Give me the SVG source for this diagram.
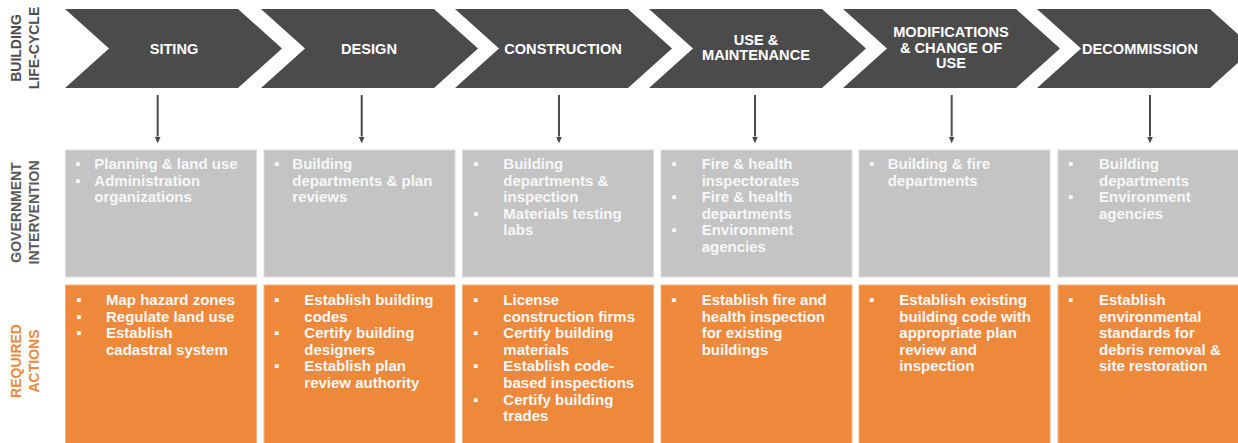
<svg xmlns="http://www.w3.org/2000/svg" width="1238" height="443" viewBox="0 0 1238 443">
<style>
.chev{fill:#4b4b4b}
.ct{fill:#ffffff;font-family:"Liberation Sans",Arial,sans-serif;font-weight:bold;font-size:14.6px;text-anchor:middle}
.side{font-family:"Liberation Sans",Arial,sans-serif;font-weight:bold;font-size:14px;text-anchor:middle}
.gbox{fill:#c4c4c4;stroke:#dcdcdc;stroke-width:1}
.obox{fill:#ee893c;stroke:#f3b27e;stroke-width:1}
.bt{fill:#f7f7f7;font-family:"Liberation Sans",Arial,sans-serif;font-weight:bold;font-size:15px}
.bl{fill:#f7f7f7;font-family:"Liberation Sans",Arial,sans-serif;font-size:15px;text-anchor:middle}
.arr{stroke:#4b4b4b;stroke-width:2;fill:none}
</style>
<defs>
<marker id="ah" markerWidth="7" markerHeight="6" refX="0" refY="3" orient="auto" markerUnits="userSpaceOnUse" viewBox="0 0 7 6">
<path d="M0,0 L7,3 L0,6 Z" fill="#4b4b4b"/>
</marker>
</defs>
<rect width="1238" height="443" fill="#ffffff"/>

<g id="labels">
<text class="side" fill="#4d4d4d" transform="rotate(-90 20.5 48)" x="20.5" y="48">BUILDING</text>
<text class="side" fill="#4d4d4d" transform="rotate(-90 38.5 48)" x="38.5" y="48">LIFE-CYCLE</text>
<text class="side" fill="#5a5a5a" transform="rotate(-90 20.5 212.5)" x="20.5" y="212.5">GOVERNMENT</text>
<text class="side" fill="#5a5a5a" transform="rotate(-90 38.5 212.5)" x="38.5" y="212.5">INTERVENTION</text>
<text class="side" fill="#ee893c" transform="rotate(-90 20.5 361)" x="20.5" y="361">REQUIRED</text>
<text class="side" fill="#ee893c" transform="rotate(-90 38.5 361)" x="38.5" y="361">ACTIONS</text>
</g>

<g id="chev-siting">
<polygon class="chev" points="65,9 238,9 282,48.5 238,88 65,88 109,48.5"/>
<text class="ct" x="174" y="53.5">SITING</text>
</g>
<g id="chev-design">
<polygon class="chev" points="261,9 434,9 478,48.5 434,88 261,88 305,48.5"/>
<text class="ct" x="369" y="53.5">DESIGN</text>
</g>
<g id="chev-construction">
<polygon class="chev" points="455,9 628,9 672,48.5 628,88 455,88 499,48.5"/>
<text class="ct" x="563" y="53.5">CONSTRUCTION</text>
</g>
<g id="chev-use">
<polygon class="chev" points="649,9 822,9 866,48.5 822,88 649,88 693,48.5"/>
<text class="ct" x="756" y="45">USE &amp;</text>
<text class="ct" x="756" y="60">MAINTENANCE</text>
</g>
<g id="chev-modifications">
<polygon class="chev" points="843,9 1016,9 1060,48.5 1016,88 843,88 887,48.5"/>
<text class="ct" x="951" y="37">MODIFICATIONS</text>
<text class="ct" x="951" y="52.5">&amp; CHANGE OF</text>
<text class="ct" x="951" y="68">USE</text>
</g>
<g id="chev-decommission">
<polygon class="chev" points="1037,9 1210,9 1254,48.5 1210,88 1037,88 1081,48.5"/>
<text class="ct" x="1140" y="53.5">DECOMMISSION</text>
</g>

<g id="connectors">
<line class="arr" x1="157.7" y1="95" x2="157.7" y2="136.5" marker-end="url(#ah)"/>
<line class="arr" x1="361.7" y1="95" x2="361.7" y2="136.5" marker-end="url(#ah)"/>
<line class="arr" x1="559" y1="95" x2="559" y2="136.5" marker-end="url(#ah)"/>
<line class="arr" x1="755" y1="95" x2="755" y2="136.5" marker-end="url(#ah)"/>
<line class="arr" x1="951.7" y1="95" x2="951.7" y2="136.5" marker-end="url(#ah)"/>
<line class="arr" x1="1150" y1="95" x2="1150" y2="136.5" marker-end="url(#ah)"/>
</g>

<g id="gov-siting">
<rect class="gbox" x="65.5" y="150" width="191" height="127"/>
<text class="bl" x="78" y="169">▪</text><text class="bt" x="94.3" y="169">Planning &amp; land use</text>
<text class="bl" x="78" y="185.6">▪</text><text class="bt" x="94.3" y="185.6">Administration</text>
<text class="bt" x="94.3" y="202.2">organizations</text>
</g>
<g id="gov-design">
<rect class="gbox" x="264" y="150" width="191" height="127"/>
<text class="bl" x="276.7" y="169">▪</text><text class="bt" x="292.3" y="169">Building</text>
<text class="bt" x="292.3" y="185.6">departments &amp; plan</text>
<text class="bt" x="292.3" y="202.2">reviews</text>
</g>
<g id="gov-construction">
<rect class="gbox" x="462.5" y="150" width="191" height="127"/>
<text class="bl" x="475.7" y="169">▪</text><text class="bt" x="503.3" y="169">Building</text>
<text class="bt" x="503.3" y="185.6">departments &amp;</text>
<text class="bt" x="503.3" y="202.2">inspection</text>
<text class="bl" x="475.7" y="218.8">▪</text><text class="bt" x="503.3" y="218.8">Materials testing</text>
<text class="bt" x="503.3" y="235.4">labs</text>
</g>
<g id="gov-use">
<rect class="gbox" x="661" y="150" width="191" height="127"/>
<text class="bl" x="674" y="169">▪</text><text class="bt" x="701.7" y="169">Fire &amp; health</text>
<text class="bt" x="701.7" y="185.6">inspectorates</text>
<text class="bl" x="674" y="202.2">▪</text><text class="bt" x="701.7" y="202.2">Fire &amp; health</text>
<text class="bt" x="701.7" y="218.8">departments</text>
<text class="bl" x="674" y="235.4">▪</text><text class="bt" x="701.7" y="235.4">Environment</text>
<text class="bt" x="701.7" y="252">agencies</text>
</g>
<g id="gov-modifications">
<rect class="gbox" x="859" y="150" width="191" height="127"/>
<text class="bl" x="871.7" y="169">▪</text><text class="bt" x="887.7" y="169">Building &amp; fire</text>
<text class="bt" x="887.7" y="185.6">departments</text>
</g>
<g id="gov-decommission">
<rect class="gbox" x="1058" y="150" width="191" height="127"/>
<text class="bl" x="1070.7" y="169">▪</text><text class="bt" x="1099" y="169">Building</text>
<text class="bt" x="1099" y="185.6">departments</text>
<text class="bl" x="1070.7" y="202.2">▪</text><text class="bt" x="1099" y="202.2">Environment</text>
<text class="bt" x="1099" y="218.8">agencies</text>
</g>

<g id="act-siting">
<rect class="obox" x="65.5" y="285" width="191" height="165"/>
<text class="bl" x="79" y="305">▪</text><text class="bt" x="106" y="305">Map hazard zones</text>
<text class="bl" x="79" y="321.6">▪</text><text class="bt" x="106" y="321.6">Regulate land use</text>
<text class="bl" x="79" y="338.2">▪</text><text class="bt" x="106" y="338.2">Establish</text>
<text class="bt" x="106" y="354.8">cadastral system</text>
</g>
<g id="act-design">
<rect class="obox" x="264" y="285" width="191" height="165"/>
<text class="bl" x="276.7" y="305">▪</text><text class="bt" x="304.3" y="305">Establish building</text>
<text class="bt" x="304.3" y="321.6">codes</text>
<text class="bl" x="276.7" y="338.2">▪</text><text class="bt" x="304.3" y="338.2">Certify building</text>
<text class="bt" x="304.3" y="354.8">designers</text>
<text class="bl" x="276.7" y="371.4">▪</text><text class="bt" x="304.3" y="371.4">Establish plan</text>
<text class="bt" x="304.3" y="388">review authority</text>
</g>
<g id="act-construction">
<rect class="obox" x="462.5" y="285" width="191" height="165"/>
<text class="bl" x="475.7" y="305">▪</text><text class="bt" x="503.3" y="305">License</text>
<text class="bt" x="503.3" y="321.6">construction firms</text>
<text class="bl" x="475.7" y="338.2">▪</text><text class="bt" x="503.3" y="338.2">Certify building</text>
<text class="bt" x="503.3" y="354.8">materials</text>
<text class="bl" x="475.7" y="371.4">▪</text><text class="bt" x="503.3" y="371.4">Establish code-</text>
<text class="bt" x="503.3" y="388">based inspections</text>
<text class="bl" x="475.7" y="404.6">▪</text><text class="bt" x="503.3" y="404.6">Certify building</text>
<text class="bt" x="503.3" y="421.2">trades</text>
</g>
<g id="act-use">
<rect class="obox" x="661" y="285" width="191" height="165"/>
<text class="bl" x="674" y="305">▪</text><text class="bt" x="701.7" y="305">Establish fire and</text>
<text class="bt" x="701.7" y="321.6">health inspection</text>
<text class="bt" x="701.7" y="338.2">for existing</text>
<text class="bt" x="701.7" y="354.8">buildings</text>
</g>
<g id="act-modifications">
<rect class="obox" x="859" y="285" width="191" height="165"/>
<text class="bl" x="871.7" y="305">▪</text><text class="bt" x="899.3" y="305">Establish existing</text>
<text class="bt" x="899.3" y="321.6">building code with</text>
<text class="bt" x="899.3" y="338.2">appropriate plan</text>
<text class="bt" x="899.3" y="354.8">review and</text>
<text class="bt" x="899.3" y="371.4">inspection</text>
</g>
<g id="act-decommission">
<rect class="obox" x="1058" y="285" width="191" height="165"/>
<text class="bl" x="1070.7" y="305">▪</text><text class="bt" x="1099" y="305">Establish</text>
<text class="bt" x="1099" y="321.6">environmental</text>
<text class="bt" x="1099" y="338.2">standards for</text>
<text class="bt" x="1099" y="354.8">debris removal &amp;</text>
<text class="bt" x="1099" y="371.4">site restoration</text>
</g>
</svg>
